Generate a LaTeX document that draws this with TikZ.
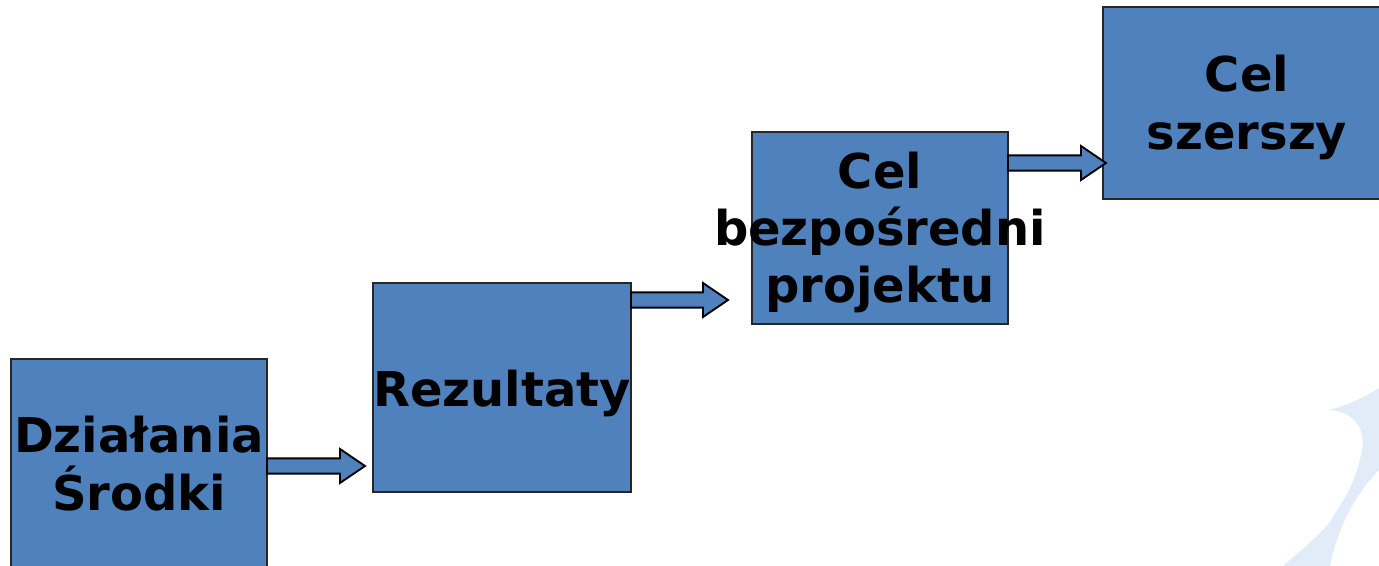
\documentclass[tikz,border=0pt]{standalone}
\usepackage{fontspec}
\setmainfont{DejaVu Sans}
\usetikzlibrary{calc}
\definecolor{boxblue}{HTML}{4F81BD}
\definecolor{swoosh}{HTML}{E1ECF8}
\tikzset{
  box/.style={draw=black!85, line width=1.3pt, fill=boxblue, inner sep=0pt, outer sep=0pt, anchor=north west},
  boxtext/.style={inner sep=0pt, font=\fontsize{36}{43}\selectfont\bfseries, align=center, text=black},
  blockarrow/.style={draw=black, line width=1.4pt, fill=boxblue, line join=miter},
}
\newcommand\blockarr[2]{%
  \draw[blockarrow] let \p1=(#1), \p2=(#2) in
    (\x1,\y1+5.7pt) -- (\x2-18.75pt,\y1+5.7pt) -- (\x2-18.75pt,\y1+12.75pt) -- (\x2,\y1)
    -- (\x2-18.75pt,\y1-12.75pt) -- (\x2-18.75pt,\y1-5.7pt) -- (\x1,\y1-5.7pt) -- cycle;}
\begin{document}
\begin{tikzpicture}[x=0.75pt,y=-0.75pt]
\useasboundingbox (0,0) rectangle (1379,566);
\clip (0,0) rectangle (1379,566);
% background swoosh
\fill[swoosh] (1327,410) .. controls (1350,410) and (1366,425) .. (1362,450)
  .. controls (1356,485) and (1340,505) .. (1330,522)
  .. controls (1315,540) and (1295,555) .. (1283,566)
  -- (1330,566) .. controls (1336,535) and (1350,500) .. (1379,470)
  -- (1379,388) .. controls (1360,400) and (1340,408) .. cycle;
% boxes
\node[box, minimum width=192pt, minimum height=156pt] (b1) at (11,359) {};
\node[box, minimum width=193.5pt, minimum height=156.75pt] (b2) at (373,283) {};
\node[box, minimum width=192pt, minimum height=144pt] (b3) at (752,132) {};
\node[box, minimum width=216pt, minimum height=144pt] (b4) at (1103,7) {};
% texts
\node[boxtext] (t1) at ($(b1.center)+(0,0.5)$) {Działania\\Środki};
\node[boxtext] (t2) at ($(b2.center)+(0,6)$) {Rezultaty};
\node[boxtext] (t3) at ($(b3.center)+(0,4.5)$) {Cel\\bezpośredni\\projektu};
\node[boxtext] (t4) at ($(b4.center)+(0,4.5)$) {Cel\\szerszy};
% arrows
\coordinate (a1s) at ($(b1.north east)+(0,107)$);
\coordinate (a1t) at ($(b2.west |- a1s)+(-8,0)$);
\coordinate (a2s) at ($(b2.north east)+(0,17)$);
\coordinate (a2t) at ($(b3.west |- a2s)+(-24,0)$);
\coordinate (a3s) at ($(b3.north east)+(0,31)$);
\coordinate (a3t) at ($(b4.west |- a3s)+(3,0)$);
\blockarr{a1s}{a1t}
\blockarr{a2s}{a2t}
\blockarr{a3s}{a3t}
\end{tikzpicture}
\end{document}
